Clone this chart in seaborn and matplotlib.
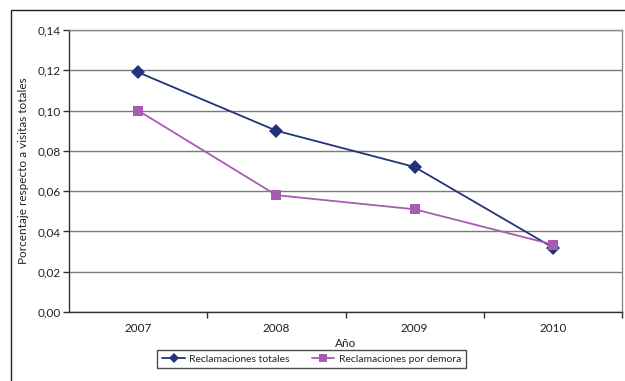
import matplotlib
matplotlib.use("Agg")
import matplotlib.pyplot as plt
import seaborn as sns
import pandas as pd
from matplotlib.patches import Rectangle
from matplotlib.ticker import FixedLocator, FuncFormatter

years = ["2007", "2008", "2009", "2010"]
totales = [0.119, 0.090, 0.072, 0.032]
demora = [0.100, 0.058, 0.051, 0.0335]
series_names = ["Reclamaciones totales", "Reclamaciones por demora"]
y_ticks = [0.0, 0.02, 0.04, 0.06, 0.08, 0.10, 0.12, 0.14]

df = pd.DataFrame({
    "Año": years * 2,
    "valor": totales + demora,
    "serie": [series_names[0]] * 4 + [series_names[1]] * 4,
})

sns.set_theme(style="white")
plt.rcParams["font.family"] = ["Lato", "DejaVu Sans"]
FS = 8.5
LFS = 7.5

fig = plt.figure(figsize=(6.25, 3.81), dpi=100)
ax = fig.add_axes([69/625, 1-312/381, (622-69)/625, (312-30)/381])

# outer chart frame
fig.patches.append(Rectangle((11/625, -0.2), 2.0, 0.2 + 1 - 10/381,
                             transform=fig.transFigure, fill=False,
                             edgecolor="#222222", linewidth=1.0, zorder=0))

palette = {series_names[0]: "#23337A", series_names[1]: "#A65CB0"}
markers = {series_names[0]: "D", series_names[1]: "s"}
sns.lineplot(data=df, x="Año", y="valor", hue="serie", style="serie",
             palette=palette, markers=markers, dashes=False, markersize=7,
             linewidth=1.3, markeredgewidth=0, ax=ax, legend=False, sort=False)

ax.set_xlim(-0.5, 3.5)
ax.set_ylim(0, 0.14)
ax.set_yticks(y_ticks)
ax.yaxis.set_major_formatter(FuncFormatter(lambda v, p: f"{v:.2f}".replace(".", ",")))
ax.grid(axis="y", color="#7a7a7a", linewidth=1.0)
ax.set_axisbelow(True)

ax.set_xticks(range(len(years)))
ax.set_xticklabels(years)
ax.xaxis.set_minor_locator(FixedLocator([0.5, 1.5, 2.5, 3.5]))
ax.tick_params(axis="x", which="major", length=0, pad=8, labelsize=FS, colors="#222222")
ax.tick_params(axis="x", which="minor", length=4, width=1, color="#333333", direction="out", bottom=True)
ax.tick_params(axis="y", which="major", length=4, width=1, color="#333333", direction="out",
               left=True, labelsize=FS, labelcolor="#222222", pad=2)

for side in ["left", "bottom"]:
    ax.spines[side].set_color("#333333")
    ax.spines[side].set_linewidth(1.0)
for side in ["right", "top"]:
    ax.spines[side].set_color("#8a8a8a")
    ax.spines[side].set_linewidth(1.0)

ax.set_xlabel("Año", fontsize=FS, color="#222222", labelpad=3)
ax.set_ylabel("Porcentaje respecto a visitas totales", fontsize=FS, color="#222222", labelpad=6)

handles = [plt.Line2D([], [], color=palette[s], marker=markers[s], markersize=5.5,
                      markeredgewidth=0, linewidth=1.3) for s in series_names]
leg = fig.legend(handles, series_names, loc="center", bbox_to_anchor=(311.5/625, 1-359/381),
                 ncol=2, frameon=True, fontsize=LFS, fancybox=False, edgecolor="#222222",
                 handlelength=2.2, handletextpad=0.4, columnspacing=2.1,
                 borderpad=0.45, borderaxespad=0)
leg.get_frame().set_linewidth(1.0)

fig.savefig("out.png", dpi=100)
